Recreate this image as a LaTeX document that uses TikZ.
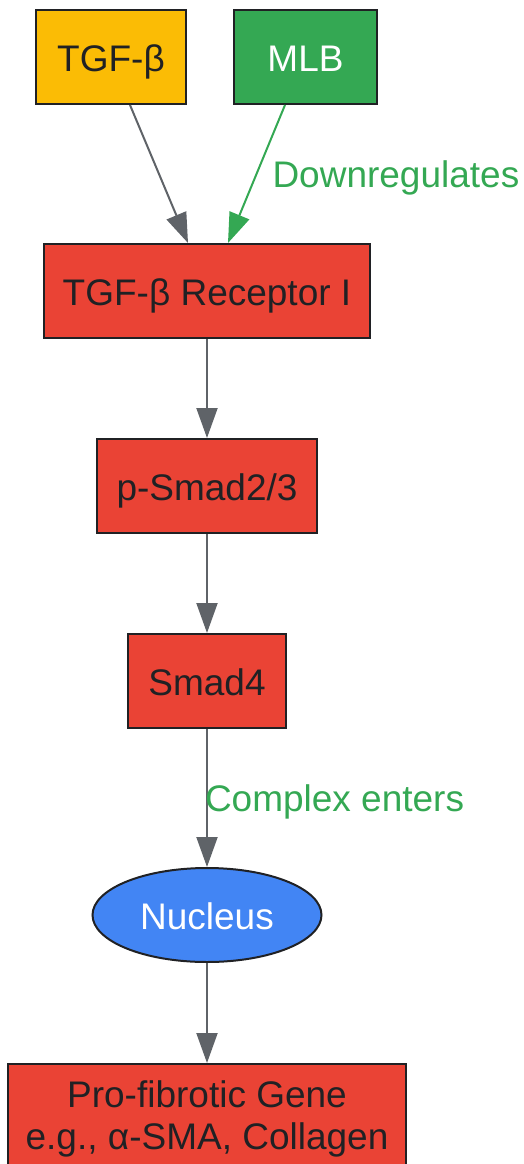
\documentclass[tikz,border=0pt]{standalone}
\usepackage{fontspec}
\setmainfont{Liberation Sans}
\usepackage{tikz}
\usetikzlibrary{arrows.meta,shapes.geometric}
\definecolor{gyellow}{HTML}{FBBC05}
\definecolor{ggreen}{HTML}{34A853}
\definecolor{gred}{HTML}{EA4335}
\definecolor{gblue}{HTML}{4285F4}
\definecolor{gdark}{HTML}{202124}
\definecolor{ggray}{HTML}{5F6368}

\begin{document}
\begin{tikzpicture}[x=1pt,y=-1pt,
  box/.style={draw=gdark,line width=2pt,minimum height=94pt,inner sep=0pt,
    text=gdark,font=\fontsize{37}{42}\selectfont},
  oneline/.style={text height=33pt,text depth=5pt},
  arr/.style={draw=ggray,line width=2pt,-{Triangle[length=30pt,width=21pt]}},
  lbl/.style={text=ggreen,inner sep=0pt,font=\fontsize{37}{42}\selectfont}]
\useasboundingbox (0,0) rectangle (523,1164);

\node[box,oneline,fill=gyellow,minimum width=150pt] (tgf) at (111,57) {TGF-β};
\node[box,oneline,fill=ggreen,minimum width=143pt,text=white] (mlb) at (305.5,57) {MLB};
\node[box,oneline,fill=gred,minimum width=326pt] (rec) at (207,291) {TGF-β Receptor I};
\node[box,oneline,fill=gred,minimum width=220pt] (psmad) at (207,486) {p-Smad2/3};
\node[box,oneline,fill=gred,minimum width=158pt] (smad4) at (207,681) {Smad4};
\node[box,oneline,ellipse,fill=gblue,minimum width=229pt,text=white] (nuc) at (207,915) {Nucleus};
\node[box,fill=gred,minimum width=398pt,minimum height=110pt,align=center] (gene) at (207,1119)
  {Pro-fibrotic Gene\\e.g., α-SMA, Collagen};

\draw[arr] ([xshift=19pt]tgf.south) -- ([xshift=-19pt]rec.north);
\draw[arr,draw=ggreen] ([xshift=-20.5pt]mlb.south) -- node[lbl,right=15pt,yshift=-4pt] {Downregulates} ([xshift=21pt]rec.north);

\foreach \a/\b in {rec/psmad,psmad/smad4,nuc/gene}{
\draw[arr] (\a) -- (\b);}

\draw[arr] (smad4) -- node[lbl,right=-3pt,yshift=-4pt] {Complex enters} (nuc);

\end{tikzpicture}
\end{document}
